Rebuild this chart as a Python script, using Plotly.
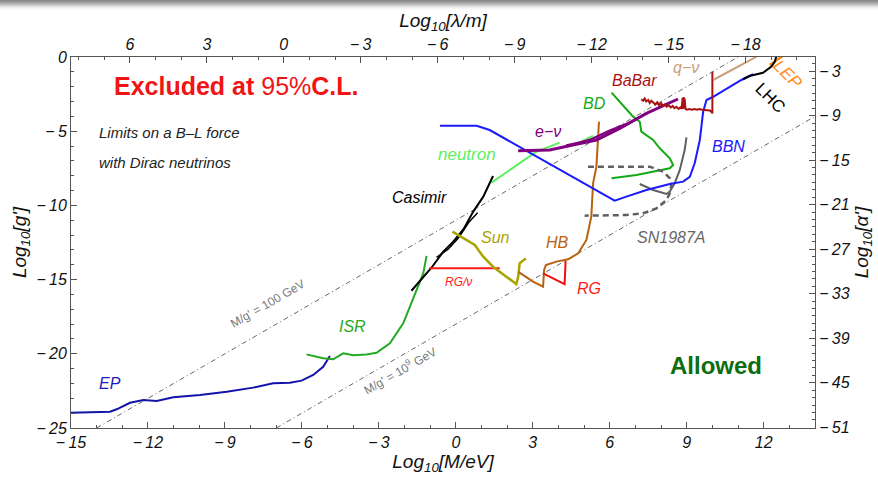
import plotly.graph_objects as go

# ---------------- data ----------------
ep_x = [-15.0, -13.48, -13.22, -12.7, -12.18, -11.66, -11.01, -9.97, -8.93, -7.9, -7.12, -6.47, -6.01, -5.56, -5.17, -4.91]
ep_y = [-23.97, -23.9, -23.74, -23.3, -23.11, -23.18, -22.93, -22.78, -22.55, -22.28, -21.99, -21.95, -21.81, -21.43, -20.87, -20.15]

isr_x = [-5.82, -5.17, -4.78, -4.39, -4.0, -3.48, -3.09, -2.57, -2.05, -1.73, -1.47, -1.27, -1.14]
isr_y = [-20.04, -20.3, -20.37, -19.97, -20.1, -20.04, -19.93, -19.3, -17.95, -16.6, -15.48, -14.58, -13.4]

cas_x = [-1.73, -0.95, -0.49, -0.1, 0.3, 0.68, 1.07, 1.45]
cas_y = [-15.75, -14.2, -13.12, -12.44, -11.6, -10.42, -9.41, -8.02]
cas2_x = [-0.75, -0.3, 0.1, 0.5, 0.85]
cas2_y = [-13.5, -12.95, -12.2, -11.15, -10.5]

neu_x = [1.39, 3.14, 4.05]
neu_y = [-8.47, -6.38, -5.77]
neu2_x = [4.7, 5.35]
neu2_y = [-5.85, -5.32]

env_x = [2.43, 3.66, 4.7, 5.48, 6.39, 7.43, 8.66]
env_y = [-6.31, -6.27, -5.88, -5.59, -4.81, -3.8, -2.83]
env2_x = [4.3, 5.2, 5.9, 6.75]
env2_y = [-5.95, -5.62, -5.05, -4.45]
env3_x = [4.5, 5.3, 6.0, 6.6]
env3_y = [-5.92, -5.52, -4.95, -4.55]

bd_x = [6.07, 6.91, 7.17, 7.23, 7.69, 7.95, 8.34, 8.47, 8.34, 7.69, 7.04, 6.07]
bd_y = [-2.4, -4.02, -4.36, -5.03, -5.59, -6.15, -6.83, -7.28, -7.5, -7.73, -7.95, -8.17]

hb_x = [5.58, 5.48, 5.35, 5.28, 5.09, 4.77, 4.38, 3.92, 3.51, 3.44, 3.4, 3.01, 2.45]
hb_y = [-4.36, -7.39, -8.51, -10.76, -12.33, -13.23, -13.63, -13.79, -14.02, -14.35, -15.48, -15.14, -14.5]

rg_x = [3.4, 4.24, 4.28]
rg_y = [-14.58, -15.3, -13.73]

rgnu_x = [-1.04, 1.71]
rgnu_y = [-14.24, -14.24]

sun_x = [-0.13, 0.29, 0.74, 1.07, 1.45, 1.97, 2.36, 2.43, 2.49, 2.73]
sun_y = [-11.77, -12.22, -12.67, -13.46, -14.13, -14.8, -15.3, -14.8, -13.9, -13.57]

sn_dash_x = [5.15, 7.56, 8.08, 8.34, 8.4, 8.34, 8.21, 7.82, 7.3, 6.65, 5.02]
sn_dash_y = [-7.39, -7.39, -7.73, -8.17, -8.63, -9.18, -9.64, -10.2, -10.53, -10.65, -10.69]
sn_x = [7.17, 7.69, 8.21, 8.34, 8.53, 8.73, 8.92, 8.99]
sn_y = [-8.56, -8.96, -9.23, -9.07, -8.51, -7.61, -6.27, -5.41]

bbn_x = [-0.62, 0.81, 1.32, 6.19, 6.65, 7.43, 8.34, 8.86, 9.12, 9.31, 9.51, 9.64, 9.77, 10.03, 11.13, 11.59]
bbn_y = [-4.63, -4.63, -4.92, -9.68, -9.41, -8.96, -8.56, -8.4, -8.07, -7.16, -5.59, -3.69, -2.9, -2.68, -1.55, -1.15]

lhc_x = [11.19, 11.45, 11.97, 12.3, 12.43, 12.49]
lhc_y = [-1.5, -1.28, -1.06, -0.65, -0.32, 0.02]

lep_x = [12.23, 12.75]
lep_y = [-0.54, 0.07]

qnu_x = [10.03, 11.72]
qnu_y = [-1.55, 0.02]

babar_x = [7.23, 7.3, 7.36, 7.42, 7.5, 7.56, 7.62, 7.7, 7.78, 7.85, 7.92, 8.0, 8.08, 8.15, 8.22,
           8.3, 8.38, 8.45, 8.52, 8.6, 8.68, 8.75, 8.8, 8.84, 8.86, 8.88, 8.9, 8.92, 8.95, 9.0,
           9.1, 9.2, 9.3, 9.4, 9.5, 9.6, 9.7, 9.8, 9.9, 9.97, 10.0, 10.0]
babar_y = [-2.85, -2.95, -2.8, -3.0, -2.9, -3.1, -2.95, -3.05, -3.2, -3.05, -3.25, -3.1, -3.3, -3.2, -3.35,
           -3.25, -3.4, -3.3, -3.45, -3.35, -3.5, -3.4, -3.5, -2.75, -3.5, -2.7, -3.45, -2.8, -3.5, -3.55,
           -3.5, -3.55, -3.5, -3.55, -3.5, -3.55, -3.55, -3.6, -3.6, -3.7, -3.8, -0.99]

ref1_x = [-14.0, 11.0]   # M/g' = 100 GeV
ref1_y = [-25.0, 0.0]
ref2_x = [-7.0, 14.0]    # M/g' = 10^9 GeV
ref2_y = [-25.0, -4.0]

x_ticks = [-15, -12, -9, -6, -3, 0, 3, 6, 9, 12]
y_ticks = [-25, -20, -15, -10, -5, 0]
lam_ticks = [6, 3, 0, -3, -6, -9, -12, -15, -18]
alpha_ticks = [-3, -9, -15, -21, -27, -33, -39, -45, -51]

X_RANGE = [-15, 14]
Y_RANGE = [-25, 0]
LAM_OFFSET = -6.705   # log10(hbar c / eV / m)
ALPHA_OFFSET = -1.099 # log10(1/(4 pi))

FONT = "Liberation Sans"


def lab(v):
    return ("\u2212\u2009" + str(abs(v))) if v < 0 else str(v)


fig = go.Figure()


def line(x, y, color, width=2, dash=None):
    fig.add_trace(go.Scatter(x=x, y=y, mode="lines", hoverinfo="skip",
                             line=dict(color=color, width=width, dash=dash)))


line(ref1_x, ref1_y, "#666666", 1, "5px,3px,1px,3px")
line(ref2_x, ref2_y, "#666666", 1, "5px,3px,1px,3px")

line(ep_x, ep_y, "#1414a8")
line(isr_x, isr_y, "#22aa22")
line(neu_x, neu_y, "#5cf05c")
line(neu2_x, neu2_y, "#5cf05c")
line(cas_x, cas_y, "black")
line(cas2_x, cas2_y, "black", 1.5)
line(rgnu_x, rgnu_y, "#ff1a1a")
line(sun_x, sun_y, "#aaa400", 2.5)
line(hb_x, hb_y, "#b8620f")
line(rg_x, rg_y, "#ee1111")
line(bd_x, bd_y, "#14aa14")
line(sn_dash_x, sn_dash_y, "#606060", 2.5, "6px,4px")
line(sn_x, sn_y, "#606060", 2)
line(bbn_x, bbn_y, "#1a1aff")
line(env2_x, env2_y, "#800080", 2)
line(env3_x, env3_y, "#800080", 2)
line(env_x, env_y, "#800080", 3)
line(babar_x, babar_y, "#aa1111", 2)
line(qnu_x, qnu_y, "#c8a07a")
line(lep_x, lep_y, "#ff8c1a", 2.5)
line(lhc_x, lhc_y, "black")

# invisible trace to activate the secondary axes
fig.add_trace(go.Scatter(x=[0], y=[-20], xaxis="x2", yaxis="y2", mode="markers",
                         marker=dict(opacity=0), hoverinfo="skip"))


def ann(x, y, text, color, size=16, italic=True, angle=0, xanchor="center", bold=False):
    fig.add_annotation(x=x, y=y, xref="x", yref="y", text=text, showarrow=False,
                       textangle=angle, xanchor=xanchor, yanchor="middle",
                       font=dict(family=FONT, size=size, color=color,
                                 style="italic" if italic else "normal",
                                 weight="bold" if bold else "normal"))


ann(-8.53, -1.95, "<b>Excluded at </b>95%<b>C.L.</b>", "#f01414", 25, italic=False)
ann(-14.0, -5.12, "Limits on a B\u2013L force", "#222222", 15, xanchor="left")
ann(-14.0, -7.08, "with Dirac neutrinos", "#222222", 15, xanchor="left")
ann(10.13, -20.82, "Allowed", "#0d6e0d", 24, italic=False, bold=True)
ann(-13.48, -22.03, "EP", "#1a1ab8")
ann(-4.01, -18.13, "ISR", "#22aa22")
ann(-1.4, -9.5, "Casimir", "black")
ann(0.43, -6.6, "neutron", "#5cf05c", 17)
ann(3.58, -5.05, "e\u2212\u03bd", "#800080")
ann(5.41, -3.1, "BD", "#14aa14")
ann(6.97, -1.55, "BaBar", "#aa1111")
ann(8.96, -0.74, "q\u2212\u03bd", "#c8a07a")
ann(12.93, -1.21, "LEP", "#ff8c1a", 17, angle=45)
ann(12.23, -2.76, "LHC", "black", 17, italic=False, angle=45)
ann(10.63, -6.06, "BBN", "#1a1aff")
ann(1.56, -12.13, "Sun", "#aaa400")
ann(3.97, -12.53, "HB", "#b8620f")
ann(0.12, -15.16, "RG/\u03bd", "#ff1a1a", 12)
ann(5.18, -15.57, "RG", "#ff1a1a")
ann(8.41, -12.13, "SN1987A", "#666666")
ann(-7.36, -16.64, "M/g' = 100 GeV", "#777777", 12, italic=False, angle=-30)
ann(-2.18, -21.09, "M/g' = 10<sup>9</sup> GeV", "#777777", 12, italic=False, angle=-30)

# grey gradient band at the very top of the picture
grays = ["#888888", "#939393", "#a0a0a0", "#afafaf", "#bfbfbf", "#cfcfcf", "#dedede", "#ebebeb", "#f5f5f5", "#fbfbfb"]
for i, c in enumerate(grays):
    y_top = (428 - i) / 371.0
    y_bot = (428 - i - 1) / 371.0
    fig.add_shape(type="rect", xref="paper", yref="paper", x0=-0.2, x1=1.2,
                  y0=y_bot, y1=y_top, fillcolor=c, line=dict(width=0), layer="above")

tickfont = dict(family=FONT, size=16, color="#111111", style="italic")
titlefont = dict(family=FONT, size=19, color="#111111", style="italic")
axis_common = dict(showline=True, linecolor="#555555", linewidth=1, ticks="inside",
                   ticklen=6, tickcolor="#555555", showgrid=False, zeroline=False,
                   tickfont=tickfont, automargin=False,
                   minor=dict(ticks="inside", ticklen=3, dtick=1, tickcolor="#555555", showgrid=False))

fig.update_layout(
    width=878, height=479,
    margin=dict(l=71, r=63, t=57, b=51, autoexpand=False),
    plot_bgcolor="white", paper_bgcolor="white",
    showlegend=False,
    xaxis=dict(range=X_RANGE, tickmode="array", tickvals=x_ticks,
               ticktext=[lab(v) for v in x_ticks],
               title=dict(text="Log<sub>10</sub>[M/eV]", font=titlefont, standoff=0),
               **axis_common),
    yaxis=dict(range=Y_RANGE, tickmode="array", tickvals=y_ticks,
               ticktext=[lab(v) for v in y_ticks],
               title=dict(text="Log<sub>10</sub>[g']", font=titlefont, standoff=4),
               **axis_common),
    xaxis2=dict(range=[LAM_OFFSET - X_RANGE[0], LAM_OFFSET - X_RANGE[1]],
                overlaying="x", side="top", anchor="y",
                tickmode="array", tickvals=lam_ticks, ticktext=[lab(v) for v in lam_ticks],
                title=dict(text="Log<sub>10</sub>[\u03bb/m]", font=titlefont, standoff=2),
                **axis_common),
    yaxis2=dict(range=[2 * Y_RANGE[0] + ALPHA_OFFSET, 2 * Y_RANGE[1] + ALPHA_OFFSET],
                overlaying="y", side="right", anchor="x",
                tickmode="array", tickvals=alpha_ticks, ticktext=[lab(v) for v in alpha_ticks],
                title=dict(text="Log<sub>10</sub>[\u03b1']", font=titlefont, standoff=2),
                **axis_common),
)

fig.write_html("out.html", post_script="document.body.style.margin='0';",
               config={"displayModeBar": False})
